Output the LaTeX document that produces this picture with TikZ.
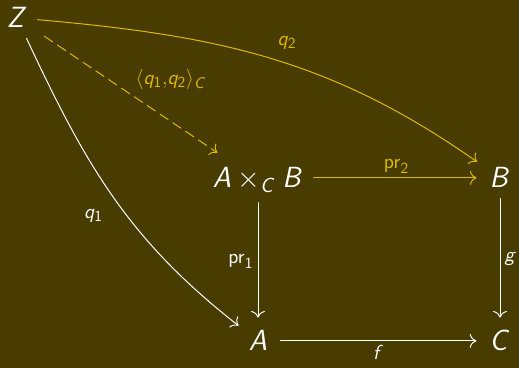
\documentclass[tikz,border=0pt]{standalone}
\usetikzlibrary{arrows.meta}
% sans serif letters and operators in math, beamer style
\DeclareSymbolFont{sfletters}{OT1}{cmss}{m}{it}
\SetSymbolFont{operators}{normal}{OT1}{cmss}{m}{n}
\DeclareMathSymbol{A}{\mathalpha}{sfletters}{"41}
\DeclareMathSymbol{B}{\mathalpha}{sfletters}{"42}
\DeclareMathSymbol{C}{\mathalpha}{sfletters}{"43}
\DeclareMathSymbol{Z}{\mathalpha}{sfletters}{"5A}
\DeclareMathSymbol{f}{\mathalpha}{sfletters}{"66}
\DeclareMathSymbol{g}{\mathalpha}{sfletters}{"67}
\DeclareMathSymbol{q}{\mathalpha}{sfletters}{"71}
\definecolor{bgolive}{RGB}{72,60,0}
\definecolor{mapyellow}{RGB}{222,186,0}
\begin{document}
\begin{tikzpicture}[line cap=round, line join=round, >={To[scale=1.5]}, line width=0.7pt]
			\tikzset{obj/.style={white, inner sep=7pt, anchor=base, font=\fontsize{22}{26}\selectfont},
				lab/.style={inner sep=3pt, font=\fontsize{15.5}{18}\selectfont}}
			\useasboundingbox (0,0) rectangle (12.975,9.2);
			\fill[bgolive] (0,0) rectangle (12.975,9.2);
			\node[obj] (Z) at (0.425,8.5) {$Z$};
			\node[obj] (P) at (6.45,4.5) {$A\times_C B$};
			\node[obj] (B) at (12.5,4.5) {$B$};
			\node[obj] (A) at (6.45,0.425) {$A$};
			\node[obj] (C) at (12.5,0.425) {$C$};
			\draw[->, mapyellow, shorten >=2pt] (Z) to[out=-5, in=145] node[lab, pos=0.54, above=7pt]{$q_2$} (B);
			\draw[->, mapyellow, dash pattern=on 7pt off 4pt, shorten <=6pt, shorten >=6pt] (Z) -- node[lab, midway, above right]{$\langle q_1{,}q_2\rangle_C$} (P);
			\draw[->, white] (Z) to[out=-65, in=142] node[lab, pos=0.57, left=14pt]{$q_1$} (A);
			\draw[->, mapyellow, shorten >=2pt] (P.east |- B) -- node[lab, above]{$\mathrm{pr}_2$} (B);
			\draw[->, white, shorten >=2pt] (P) -- node[lab, left]{$\mathrm{pr}_1$} (A);
			\draw[->, white, shorten >=2pt] (B) -- node[lab, right]{$g$} (C);
			\draw[->, white, shorten <=2pt, shorten >=2pt] (A) -- node[lab, below]{$f$} (C);
			
		\end{tikzpicture}
\end{document}
